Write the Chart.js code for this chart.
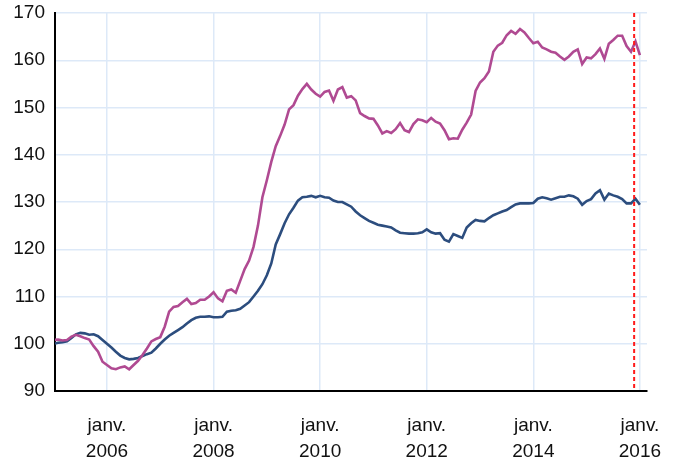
<!DOCTYPE html>
<html>
<head>
<meta charset="utf-8">
<script src="https://cdn.jsdelivr.net/npm/chart.js@4.4.1/dist/chart.umd.min.js"></script>
<style>
  html, body { margin: 0; padding: 0; background: #fff; }
  #wrap { width: 673px; height: 457px; position: relative; }
</style>
</head>
<body>
<div id="wrap"><canvas id="line-chart"></canvas></div>
<script>
// monthly values, first one is janv. 2005
const startYear = 2005;
const serieRose = [
  100.8, 100.9, 100.7, 100.8, 101.5, 101.9, 101.6, 101.2, 100.9, 99.5, 98.3, 96.2,
  95.5, 94.8, 94.6, 95.0, 95.2, 94.6, 95.5, 96.4, 97.6, 99.0, 100.5, 101.0,
  101.4, 103.6, 106.8, 107.8, 108.0, 108.8, 109.5, 108.4, 108.6, 109.3, 109.3, 110.0,
  110.9, 109.6, 109.0, 111.2, 111.5, 110.8, 113.3, 115.8, 117.6, 120.5, 125.0, 131.0,
  134.6, 138.5, 141.8, 144.0, 146.4, 149.6, 150.5, 152.5, 153.9, 155.0, 153.8, 152.9,
  152.3, 153.3, 153.6, 151.4, 153.8, 154.3, 152.1, 152.4, 151.5, 148.8, 148.2, 147.7,
  147.6, 146.2, 144.5, 145.0, 144.6, 145.4, 146.7, 145.2, 144.8, 146.5, 147.5, 147.3,
  146.9, 147.8, 147.0, 146.6, 145.2, 143.3, 143.5, 143.4, 145.3, 146.8, 148.5, 153.5,
  155.3, 156.2, 157.6, 161.8, 163.1, 163.7, 165.3, 166.2, 165.6, 166.6, 165.9, 164.7,
  163.6, 163.9, 162.7, 162.3, 161.8, 161.6, 160.8, 160.1, 160.8, 161.8, 162.3, 159.2,
  160.6, 160.4, 161.3, 162.5, 160.3, 163.5, 164.3, 165.2, 165.2, 163.0, 161.8, 164.0,
  161.1
];
const serieBleue = [
  100.0, 100.2, 100.3, 100.5, 101.2, 102.0, 102.3, 102.2, 101.9, 102.0, 101.6, 100.8,
  100.0, 99.2, 98.3, 97.5, 97.0, 96.7, 96.8, 97.0, 97.4, 97.8, 98.1, 99.0,
  100.0, 100.9, 101.7, 102.3, 102.9, 103.5, 104.3, 105.0, 105.5, 105.7, 105.7, 105.8,
  105.6, 105.6, 105.7, 106.8, 107.0, 107.1, 107.4, 108.1, 108.8, 110.0, 111.2, 112.6,
  114.5, 117.0, 121.0, 123.2, 125.5, 127.4, 128.8, 130.3, 131.0, 131.1, 131.3, 131.0,
  131.3, 131.0, 130.9, 130.3, 130.0, 130.0, 129.5, 129.0, 128.0, 127.2, 126.6, 126.0,
  125.6, 125.2, 125.0, 124.8, 124.6, 124.0, 123.5, 123.4, 123.3, 123.3, 123.4, 123.6,
  124.2, 123.6, 123.3, 123.4, 122.0, 121.6, 123.2, 122.8, 122.4, 124.6, 125.5, 126.2,
  126.0, 125.9, 126.6, 127.2, 127.6, 128.0, 128.3, 128.9, 129.5, 129.7, 129.7, 129.7,
  129.8, 130.7, 131.0, 130.8, 130.5, 130.8, 131.1, 131.1, 131.4, 131.2, 130.7, 129.4,
  130.2, 130.6, 131.8, 132.5, 130.5, 131.8, 131.4, 131.1, 130.6, 129.7, 129.7, 130.7,
  129.4
];
const xTicks = [2006, 2008, 2010, 2012, 2014, 2016];
const xTickLabels = ["janv.", "janv.", "janv.", "janv.", "janv.", "janv."];
const yTicks = [90, 100, 110, 120, 130, 140, 150, 160, 170];
const dateRepere = 2015 + 10.7 / 12;

function toPoints(values) {
  return values.map((v, i) => ({ x: startYear + i / 12, y: v }));
}

const ligneRepere = {
  id: "ligneRepere",
  afterDatasetsDraw(chart) {
    const ctx = chart.ctx;
    const x = chart.scales.x.getPixelForValue(dateRepere);
    const area = chart.chartArea;
    ctx.save();
    ctx.strokeStyle = "#ff1a1a";
    ctx.lineWidth = 2;
    ctx.setLineDash([4, 3]);
    ctx.beginPath();
    ctx.moveTo(x, area.top);
    ctx.lineTo(x, area.bottom);
    ctx.stroke();
    ctx.restore();
  }
};

const config = {
  type: "line",
  data: {
    datasets: [{
      data: toPoints(serieRose),
      borderColor: "#b04a92",
      borderWidth: 2.6,
      pointRadius: 0,
      tension: 0,
    },
    {
      data: toPoints(serieBleue),
      borderColor: "#2c4d7e",
      borderWidth: 2.6,
      pointRadius: 0,
      tension: 0,
    }],
  },
  options: {
    responsive: true,
    maintainAspectRatio: false,
    animation: false,
    layout: { padding: { top: 13, right: 26, left: 0, bottom: 0 } },
    plugins: {
      legend: { display: false },
      tooltip: { enabled: false },
    },
    scales: {
      x: {
        type: "linear",
        min: 2005.025,
        max: 2016.133,
        afterBuildTicks: scale => {
          scale.ticks = xTicks.map(v => ({ value: v }));
        },
        afterFit: scale => {
          scale.height = 66;
          scale.paddingLeft = 0;
          scale.paddingRight = 0;
        },
        ticks: {
          color: "#111",
          font: { family: "Liberation Sans, Arial", size: 19, lineHeight: 1.35 },
          padding: 22,
          maxRotation: 0,
          callback: (value, index) => [xTickLabels[index], String(value)],
        },
        grid: { color: "#dde9f8", lineWidth: 1.5, drawTicks: false },
        border: { color: "#000", width: 2 },
      },
      y: {
        min: 90,
        max: 170,
        afterBuildTicks: scale => {
          scale.ticks = yTicks.map(v => ({ value: v }));
        },
        afterFit: scale => {
          scale.width = 55;
          scale.paddingTop = 0;
          scale.paddingBottom = 0;
        },
        ticks: {
          color: "#111",
          font: { family: "Liberation Sans, Arial", size: 19 },
          padding: 10,
        },
        grid: { color: "#dde9f8", lineWidth: 1.5, drawTicks: false },
        border: { color: "#000", width: 2 },
      },
    },
  },
  plugins: [ligneRepere],
};

const ctx = document.getElementById("line-chart").getContext("2d");
new Chart(ctx, config);
</script>
</body>
</html>
